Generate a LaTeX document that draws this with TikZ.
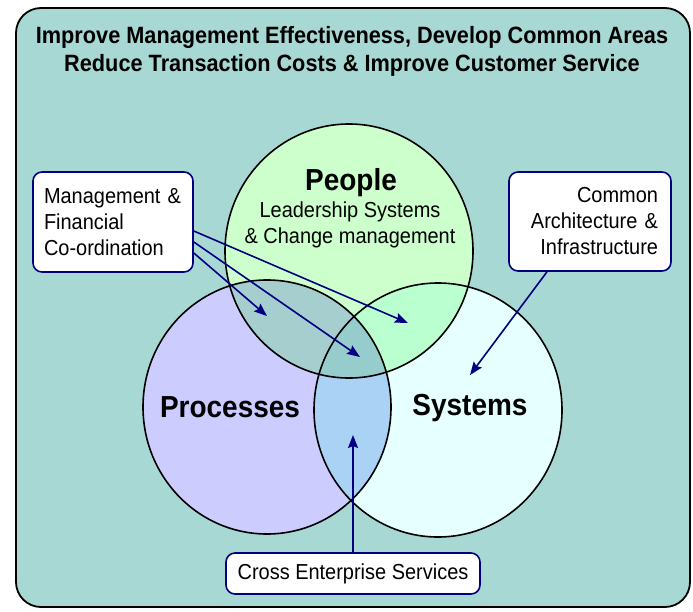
\documentclass[tikz,border=0pt]{standalone}
\usepackage{fontspec}
\setmainfont{Liberation Sans}[FakeStretch=0.92]
\usetikzlibrary{arrows.meta}

\definecolor{panel}{RGB}{168,216,212}
\definecolor{navy}{RGB}{0,0,128}
\definecolor{peoplefill}{RGB}{204,255,204}
\definecolor{procfill}{RGB}{204,204,255}
\definecolor{sysfill}{RGB}{230,255,255}
\definecolor{pprfill}{RGB}{166,206,206}
\definecolor{psfill}{RGB}{186,255,208}
\definecolor{rsfill}{RGB}{170,210,245}
\definecolor{allfill}{RGB}{150,204,204}

\begin{document}
\begin{tikzpicture}[x=1pt,y=-1pt,>={Stealth[length=13pt,width=10pt,inset=2pt]},
	line join=round, line cap=round,
	ring/.style={draw=black, line width=1.6pt},
	note/.style={draw=navy, fill=white, line width=1.6pt, rounded corners=9pt,
		font=\fontsize{21.7}{26}\selectfont, inner ysep=0pt},
	link/.style={->, draw=navy, line width=1.6pt},
	big/.style={font=\fontsize{30.4}{32}\selectfont\bfseries}]
	\useasboundingbox (0,0) rectangle (693,611);
	\draw[fill=panel, line width=1.8pt, rounded corners=25pt] (16,8) rectangle (690,607);
	\node[align=center, font=\fontsize{23.6}{28}\selectfont\bfseries] (title) at (352,51)
		{Improve Management Effectiveness, Develop Common Areas\\
		 Reduce Transaction Costs \& Improve Customer Service};
	% centres of the three sets
	\path
	(349,251)coordinate(P)
	(267,407)coordinate(R)
	(438,410)coordinate(S)
	;
	\foreach \c/\col in {P/peoplefill,R/procfill,S/sysfill}
		\fill[\col](\c) ellipse[x radius=124pt, y radius=127pt];
	% overlaps
	\begin{scope}
		\clip (P) ellipse[x radius=124pt, y radius=127pt];
		\fill[pprfill] (R) ellipse[x radius=124pt, y radius=127pt];
		\fill[psfill] (S) ellipse[x radius=124pt, y radius=127pt];
	\end{scope}
	\begin{scope}
		\clip (R) ellipse[x radius=124pt, y radius=127pt];
		\fill[rsfill] (S) ellipse[x radius=124pt, y radius=127pt];
		\clip (S) ellipse[x radius=124pt, y radius=127pt];
		\fill[allfill] (P) ellipse[x radius=124pt, y radius=127pt];
	\end{scope}
	\foreach \c in {P,R,S} \draw[ring](\c) ellipse[x radius=124pt, y radius=127pt];
	% labels of the sets
	\node[big] (people) at (351,183) {People};
	\node[align=center, font=\fontsize{21.7}{25.5}\selectfont] (lead) at (350,225)
		{Leadership Systems\\ \& Change management};
	\node[big] (processes) at (230,407) {Processes};
	\node[big] (systems) at (470,408) {Systems};
	% boxes
	\node[note, align=left, text width=138pt, inner xsep=11pt, minimum height=100pt] (mgmt) at (113,222)
		{Management \&\\ Financial\\ Co-ordination};
	\node[note, align=right, text width=136pt, inner xsep=13pt, minimum height=99pt] (arch) at (590,221.5)
		{Common\hspace*{.278em}\\ Architecture \&\hspace*{.278em}\\ Infrastructure};
	\node[note, minimum width=254pt, minimum height=41pt] (cross) at (353,573.5)
		{Cross Enterprise Services};
	% arrow ends
	\path
	(408,323)coordinate(a1)
	(360,357)coordinate(a2)
	(267,316)coordinate(a3)
	(470,375)coordinate(a4)
	(353,435)coordinate(a5)
	;
	\foreach \s/\e in {-9/a1,-20/a2,-31/a3} \draw[link]([yshift=\s pt]mgmt.east)--(\e);
	\draw[link]([xshift=-43pt]arch.south)--(a4);
	\draw[link](cross.north)--(a5);
\end{tikzpicture}
\end{document}
